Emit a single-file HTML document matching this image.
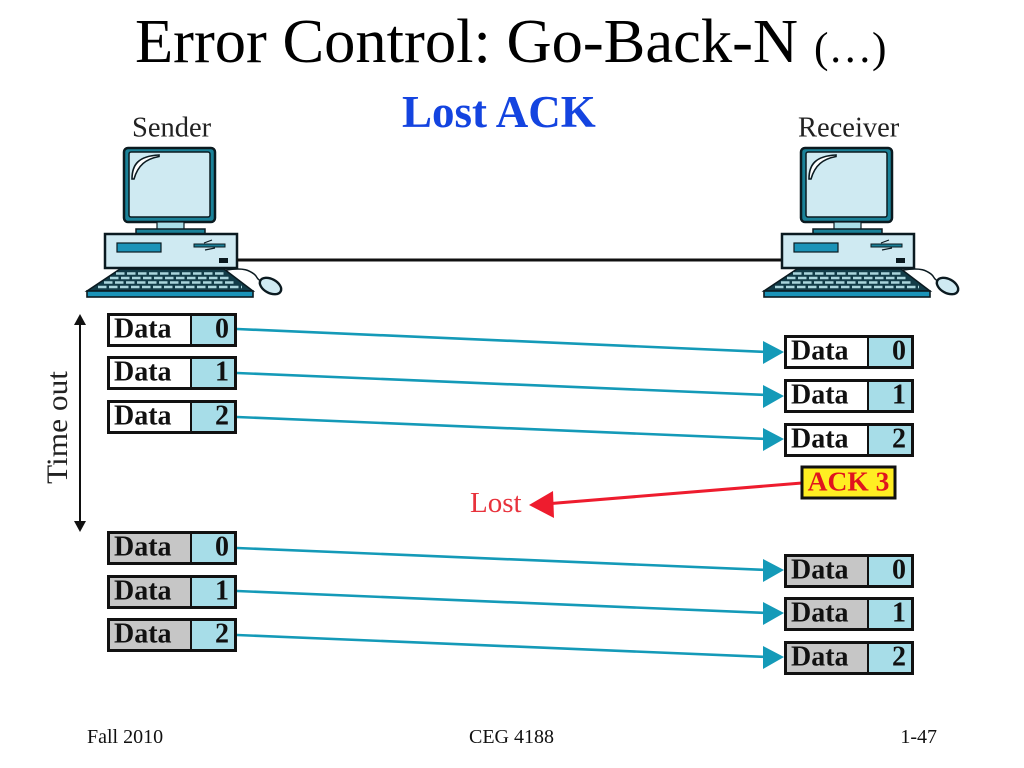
<!DOCTYPE html>
<html>
<head>
<meta charset="utf-8">
<style>
html,body{margin:0;padding:0;background:#fff;width:1024px;height:768px;overflow:hidden}
svg{display:block}
text{font-family:"Liberation Serif",serif}
</style>
</head>
<body>
<svg width="1024" height="768" viewBox="0 0 1024 768" xmlns="http://www.w3.org/2000/svg">
<defs>
  <g id="pc">
    <rect x="124" y="148" width="91" height="74" rx="4" fill="#1a8299" stroke="#0b1a20" stroke-width="2.5"/>
    <rect x="129" y="152" width="81" height="65" rx="2" fill="#cfeaf2" stroke="#0b1a20" stroke-width="1.5"/>
    <path d="M132 179 C132 165 138 156 159 155 L159 156.500 C146 159 138 165 134 179 Z" fill="#fff" stroke="#0b1a20" stroke-width="1.6"/>
    <rect x="157" y="222" width="27" height="8" fill="#a9dfe8" stroke="#0b1a20" stroke-width="1.2"/>
    <rect x="136" y="229" width="69" height="5" fill="#1a8299" stroke="#0b1a20" stroke-width="1.5"/>
    <rect x="105" y="234" width="132" height="34" fill="#cfeaf2" stroke="#0b1a20" stroke-width="2.5"/>
    <rect x="117" y="243" width="44" height="9" fill="#1a93b8" stroke="#0b1a20" stroke-width="1.2"/>
    <rect x="194" y="244" width="31" height="3" fill="#1a7f96" stroke="#0b1a20" stroke-width="1"/>
    <path d="M204 243 L212 240 M205 250 L215 248" stroke="#0b1a20" stroke-width="1.2" fill="none"/>
    <rect x="219" y="258" width="9" height="5" fill="#0b1a20"/>
    <path d="M120 269 H224 L253 291 H87 Z" fill="#123c48" stroke="#0b1a20" stroke-width="1.5"/>
    <path d="M116 273.500 H224 M110 278 H230 M104 282.500 H236 M98 287 H242" stroke="#a9d5dc" stroke-width="2.600" stroke-dasharray="8.500 2.500"/>
    <rect x="87" y="291" width="166" height="6" fill="#1a93b8" stroke="#0b1a20" stroke-width="1.6"/>
    <path d="M226 270 C245 267 250 271 254 274 C258 277 256 279 261 281" fill="none" stroke="#0b1a20" stroke-width="1.5"/>
    <ellipse cx="270.500" cy="286" rx="11.500" ry="7" transform="rotate(28 270.500 286)" fill="#cfeaf2" stroke="#0b1a20" stroke-width="2.4"/>
  </g>
  <g id="box">
    <rect x="1.5" y="1.5" width="127" height="31" fill="var(--c,#fff)" stroke="#111" stroke-width="3"/>
    <rect x="84" y="3" width="43" height="28" fill="#a7dde8"/>
    <line x1="84" y1="2" x2="84" y2="32" stroke="#111" stroke-width="2"/>
    <rect x="1.5" y="1.5" width="127" height="31" fill="none" stroke="#111" stroke-width="3"/>
  </g>
</defs>

<text x="135" y="62" font-size="62.500" fill="#000">Error Control: Go-Back-N</text>
<text x="814" y="62" font-size="43.500" fill="#000">(…)</text>
<text x="402" y="127" font-size="45" font-weight="bold" fill="#1444e0">Lost ACK</text>
<text x="132" y="136.500" font-size="28.500" fill="#222">Sender</text>
<text x="798" y="136.500" font-size="28.500" fill="#222">Receiver</text>

<use href="#pc"/>
<use href="#pc" x="677"/>
<line x1="237" y1="260" x2="781" y2="260" stroke="#111" stroke-width="3"/>

<!-- Timeout arrow -->
<line x1="80" y1="322" x2="80" y2="522" stroke="#111" stroke-width="2"/>
<polygon points="80,314 74,325 86,325" fill="#111"/>
<polygon points="80,532 74,521 86,521" fill="#111"/>
<text transform="translate(67,484) rotate(-90)" font-size="30" fill="#222" textLength="113" lengthAdjust="spacingAndGlyphs">Time out</text>

<!-- Sender boxes -->
<g font-size="28" font-weight="bold" fill="#111">
<g transform="translate(107,313)"><use href="#box"/><text x="7" y="24.500">Data</text><text x="122" y="24.500" text-anchor="end">0</text></g>
<g transform="translate(107,356)"><use href="#box"/><text x="7" y="24.500">Data</text><text x="122" y="24.500" text-anchor="end">1</text></g>
<g transform="translate(107,400)"><use href="#box"/><text x="7" y="24.500">Data</text><text x="122" y="24.500" text-anchor="end">2</text></g>
<g transform="translate(107,531)" style="--c:#c6c6c6"><use href="#box"/><text x="7" y="24.500">Data</text><text x="122" y="24.500" text-anchor="end">0</text></g>
<g transform="translate(107,575)" style="--c:#c6c6c6"><use href="#box"/><text x="7" y="24.500">Data</text><text x="122" y="24.500" text-anchor="end">1</text></g>
<g transform="translate(107,618)" style="--c:#c6c6c6"><use href="#box"/><text x="7" y="24.500">Data</text><text x="122" y="24.500" text-anchor="end">2</text></g>
<!-- Receiver boxes -->
<g transform="translate(784,335)"><use href="#box"/><text x="7" y="24.500">Data</text><text x="122" y="24.500" text-anchor="end">0</text></g>
<g transform="translate(784,379)"><use href="#box"/><text x="7" y="24.500">Data</text><text x="122" y="24.500" text-anchor="end">1</text></g>
<g transform="translate(784,423)"><use href="#box"/><text x="7" y="24.500">Data</text><text x="122" y="24.500" text-anchor="end">2</text></g>
<g transform="translate(784,554)" style="--c:#c6c6c6"><use href="#box"/><text x="7" y="24.500">Data</text><text x="122" y="24.500" text-anchor="end">0</text></g>
<g transform="translate(784,597)" style="--c:#c6c6c6"><use href="#box"/><text x="7" y="24.500">Data</text><text x="122" y="24.500" text-anchor="end">1</text></g>
<g transform="translate(784,641)" style="--c:#c6c6c6"><use href="#box"/><text x="7" y="24.500">Data</text><text x="122" y="24.500" text-anchor="end">2</text></g>
</g>

<!-- Teal arrows -->
<g stroke="#149ab8" stroke-width="2.600" fill="none">
<line x1="237" y1="329" x2="768" y2="352"/>
<line x1="237" y1="373" x2="768" y2="395"/>
<line x1="237" y1="417" x2="768" y2="439"/>
<line x1="237" y1="548" x2="768" y2="570"/>
<line x1="237" y1="591" x2="768" y2="613"/>
<line x1="237" y1="635" x2="768" y2="657"/>
</g>
<g fill="#149ab8">
<polygon points="784,352 763,341 763,364"/>
<polygon points="784,396 763,385 763,408"/>
<polygon points="784,439 763,428 763,451"/>
<polygon points="784,570 763,559 763,582"/>
<polygon points="784,613 763,602 763,625"/>
<polygon points="784,657 763,646 763,669"/>
</g>

<!-- ACK -->
<line x1="802" y1="483" x2="545" y2="504" stroke="#ee1c2e" stroke-width="3"/>
<polygon points="529,505 553,491 554,518" fill="#ee1c2e"/>
<rect x="802" y="467" width="93" height="31" fill="#ffee22" stroke="#111" stroke-width="3"/>
<text x="848.500" y="490.500" text-anchor="middle" font-size="27.500" font-weight="bold" fill="#e0141e">ACK 3</text>
<text x="470" y="512" font-size="29" fill="#e8323c">Lost</text>

<!-- Footer -->
<text x="87" y="743" font-size="20" fill="#111">Fall 2010</text>
<text x="511.500" y="743" text-anchor="middle" font-size="20" fill="#111">CEG 4188</text>
<text x="937" y="743" text-anchor="end" font-size="20" fill="#111">1-47</text>
</svg>
</body>
</html>
